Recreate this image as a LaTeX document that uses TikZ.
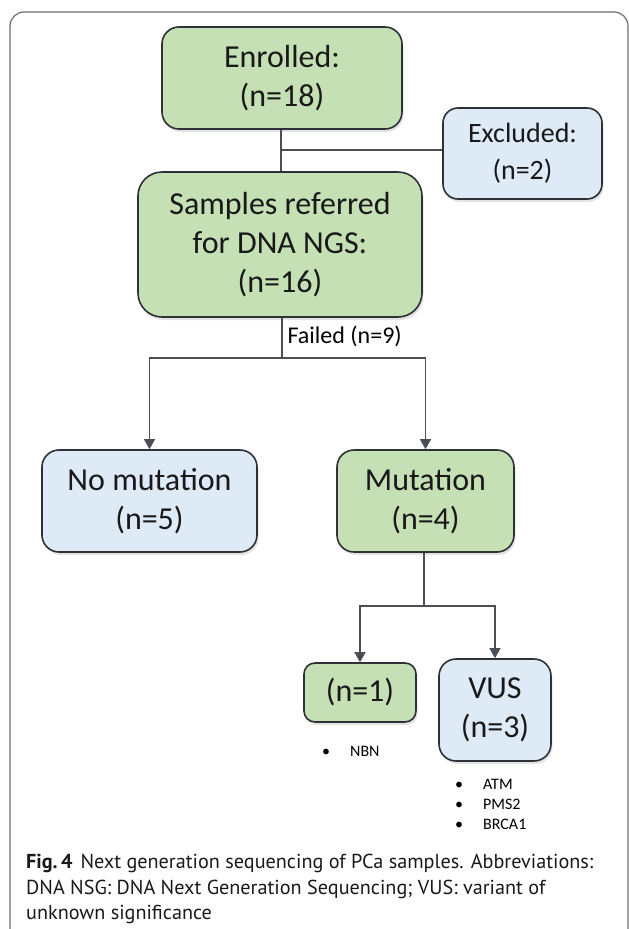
\documentclass[tikz,border=0pt]{standalone}
\usepackage{fontspec}
\setmainfont{Carlito}
\newfontfamily\capfont{PT Sans}
\usetikzlibrary{arrows.meta,positioning,shadows}
\definecolor{boxgreen}{HTML}{C5E0B4}
\definecolor{boxblue}{HTML}{DEEBF7}
\definecolor{edge}{HTML}{2E3236}
\definecolor{wirecol}{HTML}{4A4F55}
\definecolor{framegray}{HTML}{6E6E6E}
\newcommand\gene[1]{\makebox[48pt][c]{\textbullet}#1}

\begin{document}
\begin{tikzpicture}[
  x=1pt, y=-1pt,
  >={Triangle[width=11pt,length=10pt]},
  box/.style={draw=edge, line width=1.6pt, align=center, inner sep=0pt, text=black!90,
    font=\fontsize{32}{39}\selectfont,
    drop shadow={opacity=0.22, shadow xshift=1.5pt, shadow yshift=-3pt}},
  kept/.style={box, fill=boxgreen},
  aside/.style={box, fill=boxblue},
  wire/.style={draw=wirecol, line width=1.2pt},
  note/.style={font=\fontsize{24}{28}\selectfont, inner sep=5pt},
  gene/.style={font=\fontsize{16}{20}\selectfont, align=left, inner sep=0pt, anchor=west}
]
\useasboundingbox (0,0) rectangle (629,929);
\begin{scope}
  \clip (0,0) rectangle (629,929);
  \draw[draw=framegray, line width=1.2pt, rounded corners=14pt] (10,960) -- (10,12) -- (628,12) -- (628,960);
\end{scope}

% boxes
\node[kept, minimum width=240pt, minimum height=102pt, rounded corners=17pt] (enrolled) at (282,78) {Enrolled:\\(n=18)};
\node[aside, minimum width=159pt, minimum height=91pt, rounded corners=15pt, font=\fontsize{28}{37}\selectfont] (excluded) at (522.5,153.5) {Excluded:\\(n=2)};
\node[kept, minimum width=284pt, minimum height=145pt, rounded corners=24pt] (referred) at (280,244.5) {Samples referred\\for DNA NGS:\\(n=16)};
\node[aside, minimum width=215pt, minimum height=102pt, rounded corners=17pt] (nomut) at (149.5,501) {No mutation\\(n=5)};
\node[kept, minimum width=177pt, minimum height=102pt, rounded corners=17pt] (mut) at (425.5,501) {Mutation\\(n=4)};
\node[kept, minimum width=112pt, minimum height=59pt, rounded corners=11pt] (single) at (360,692.5) {(n=1)};
\node[aside, minimum width=112pt, minimum height=102pt, rounded corners=17pt] (vus) at (495,710) {VUS\\(n=3)};

% connectors
\coordinate (exjoin) at (281,150);
\draw[wire] (enrolled.south -| exjoin) -- (referred.north -| exjoin);
\draw[wire] (exjoin) -- (exjoin -| excluded.west);
\coordinate (split) at (282,358);
\draw[wire] (referred.south -| split) -- node[pos=0.45, right, note] (failed) {Failed (n=9)} (split);
\draw[wire, ->] (split) -| (nomut);
\draw[wire, ->] (split) -| (mut);
\coordinate (subsplit) at (424,606);
\draw[wire] (mut.south -| subsplit) -- (subsplit);
\draw[wire, ->] (subsplit) -| (single);
\draw[wire, ->] (subsplit) -| (vus);

% gene lists
\node[gene] (nbn) at (302,751) {\gene{NBN}};
\node[gene] (vusgenes) at (435,804) {\gene{ATM}\\\gene{PMS2}\\\gene{BRCA1}};

% caption
\node[anchor=north west, inner sep=0pt, align=left, font=\capfont\fontsize{20.2}{25.5}\selectfont, text=black!90] (caption) at (26,854)
  {\textbf{Fig.\,4}\hspace{8pt}Next generation sequencing of PCa samples. Abbreviations:\\DNA NSG: DNA Next Generation Sequencing; VUS: variant of\\unknown significance};
\end{tikzpicture}
\end{document}
